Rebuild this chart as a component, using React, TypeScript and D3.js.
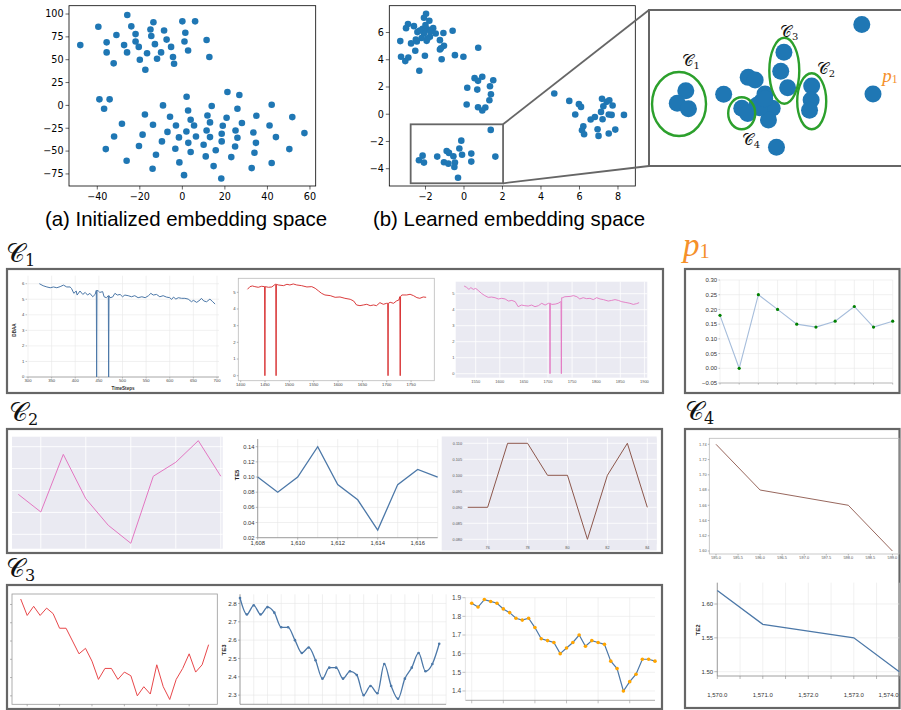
import React from "react";
import * as d3 from "d3";

type P = [number, number];
type Sc = d3.ScaleLinear<number, number>;

// ---------------- data ----------------
const initPoints: P[] = [
  [-48, 66], [-25.9, 99], [-39.5, 86], [-24, 86.5], [-13.6, 91], [0, 92], [6, 92], [-31, 77], [-22, 78], [-15, 83],
  [-14.6, 76], [-8.6, 82], [1.4, 79.5], [-35.6, 69], [-27.4, 66], [-22, 70], [-20.5, 64], [-12.9, 67], [-7.4, 72],
  [-5.3, 64], [1, 70], [11.4, 71.5], [-35.6, 58], [-26, 58], [-16.6, 57], [-10, 58], [-4.4, 53], [2.7, 60], [12.7, 53],
  [-32.3, 46], [-20, 50], [-11.9, 51], [-3.9, 45.6], [-17.4, 39],
  [-39, 6.6], [-34.2, 6.6], [-36.8, -3.6], [2, 9.5], [21.2, 14.6], [26.8, 11.3], [-9.1, 0], [13.8, -0.7], [25.9, -3.6],
  [42, 0.7], [-17.6, -9.9], [2.7, -5.5], [-5.8, -12.4], [11.8, -11], [3.9, -15.7], [13, -18.6], [20.8, -13.5],
  [34.8, -11.3], [51.7, -12.8], [-28.4, -20], [-13.8, -21.2], [-3, -22], [5.5, -22], [19, -22.3], [28, -19.3], [41, -22],
  [11.4, -27.4], [25, -27.4], [-7, -29], [1.9, -28.5], [18.5, -31], [33.4, -29.6], [57.4, -30.3], [-32.1, -34],
  [-18.7, -32], [-1.6, -35], [6.4, -34], [13, -34.7], [25.9, -35.4], [44, -34.7], [-9.6, -39.4], [2.8, -41], [10, -43],
  [18.5, -39.4], [34.6, -41], [-36, -47.8], [-20.4, -44.5], [-3.3, -47.4], [15.7, -49], [24.8, -45], [50.3, -47.8],
  [-12.4, -54], [3.9, -51], [11, -55.8], [23, -56.6], [33.9, -51.8], [-26.2, -60.6], [-1.4, -62.4], [42, -63],
  [-14, -69.3], [14.7, -66.4], [32.6, -68.6], [0.8, -76.3], [18.3, -80],
];
const initXTicks = [-40, -20, 0, 20, 40, 60];
const initYTicks = [-75, -50, -25, 0, 25, 50, 75, 100];

const learnedPoints: P[] = [
  [-1.97, 7.38], [-2.08, 7.08], [-1.8, 6.86], [-2.91, 6.62], [-3.01, 6.32], [-2.6, 6.47], [-2.15, 6.27], [-1.9, 6.23],
  [-1.6, 6.32], [-2.42, 6.03], [-2.08, 5.93], [-1.47, 5.93], [-1.07, 5.96], [-0.59, 6.13], [-1.77, 5.69], [-1.25, 5.44],
  [-2.5, 5.49], [-1.94, 5.39], [-3.31, 5.37], [-2.75, 5.2], [-1.04, 5.02], [-1.25, 4.75], [-2.53, 4.66], [-3.27, 4.22],
  [-2.89, 4.17], [-3.05, 3.9], [-2.03, 4.29], [-1.16, 4.04], [-0.47, 4.34], [-0.03, 4.22], [0.74, 4.88], [-2.32, 3.19],
  [-2.3, 6.15], [-1.75, 6.05], [-2.2, 5.6], [-1.9, 5.55], [-2.0, 6.55], [-2.45, 5.35], [-1.2, 4.85],
  [0.55, 2.65], [0.95, 2.75], [0.73, 2.45], [1.52, 2.5], [0.17, 1.94], [0.69, 1.81], [1.35, 2.06], [1.4, 1.47],
  [1.32, 1.03], [0.14, 0.71], [0.73, 0.51], [1.11, 0.49], [0.95, 0.27],
  [4.69, 1.52], [5.47, 0.98], [5.97, 0.74], [6.08, 0.54], [5.78, -0.02], [6.58, -0.39], [6.8, -0.2], [7.17, 1.13],
  [7.41, 0.91], [7.55, 1.03], [7.72, 0.64], [7.24, 0.59], [7.12, 0.17], [7.52, -0.02], [7.67, -0.05], [8.31, -0.05],
  [7.2, -0.37], [6.2, -0.88], [6.13, -1.18], [6.24, -1.47], [6.94, -1.1], [6.99, -1.59], [7.52, -1.42], [7.86, -1.13],
  [1.39, -1.15], [-0.14, -1.94], [-0.24, -2.52], [-0.1, -2.97], [0.38, -2.89], [0.38, -3.48], [1.63, -3.11],
  [-2.15, -3.04], [-2.34, -3.38], [-2.08, -3.55], [-1.39, -3.11], [-0.9, -2.7], [-0.78, -2.84], [-0.55, -3.09],
  [-1.04, -3.53], [-0.81, -3.63], [-0.47, -3.55], [-0.5, -3.87], [-0.31, -4.66],
];
const learnedXTicks = [-2, 0, 2, 4, 6, 8];
const learnedYTicks = [-4, -2, 0, 2, 4, 6];
const zoomWindow = { x0: -2.77, x1: 2.03, y0: -0.74, y1: -5.07 };

const zoomPoints: P[] = [
  [1.22, -1.14], [1.43, -3.07], [-2.08, -2.98], [-2.24, -3.33], [-2.03, -3.48], [-1.37, -3.08], [-0.91, -2.61],
  [-0.78, -2.68], [-0.24, -1.91], [-0.3, -2.44], [-0.17, -2.9], [0.28, -2.85], [0.27, -3.24], [0.24, -3.52],
  [-0.595, -3.07], [-0.66, -3.29], [-0.46, -3.47], [-0.745, -3.385], [-0.53, -3.79], [-1.03, -3.47], [-0.92, -3.61],
  [-0.38, -4.55], [-0.7, -3.45], [-0.6, -3.2],
];
const clusterIds = ["1", "4", "3", "2"];
const clusterCenters: P[] = [[-2.207, -3.349], [-1.032, -3.607], [-0.233, -2.425], [0.281, -3.274]];
const clusterRadii: P[] = [[0.506, 0.888], [0.253, 0.444], [0.281, 0.916], [0.272, 0.777]];
const clusterLabelAt: P[] = [[-2.16, -2.3], [-1.032, -4.49], [-0.314, -1.49], [0.375, -2.52]];
const outlierLabelAt: P = [1.605, -2.74];

// C1 row: long sensor series with dropouts
const c1aSeries: P[] = [
  [324, 6.0], [332, 5.87], [340, 5.79], [347, 5.74], [354, 5.79], [361, 5.74], [368, 5.81], [375, 5.91], [382, 5.79],
  [389, 5.79], [392, 5.7], [397, 5.38], [402, 5.53], [404, 5.27], [410, 5.53], [416, 5.31], [421, 5.44], [426, 5.27],
  [431, 5.38], [437, 5.16], [442, 5.31], [444.6, 5.57], [445.3, 0], [446, 5.57], [449, 5.53], [452, 5.44], [458, 5.49],
  [461, 5.16], [466, 5.1], [470, 5.23], [470.7, 0], [471.4, 5.23], [473.5, 5.1], [479, 5.14], [484, 5.38], [489, 5.27],
  [495, 5.31], [500, 5.16], [505, 5.27], [512, 5.23], [519, 5.16], [526, 5.23], [533, 5.1], [541, 5.16], [548, 5.1],
  [555, 5.23], [560, 5.38], [565, 5.27], [572, 5.31], [579, 5.16], [586, 5.23], [593, 5.14], [600, 5.1], [604, 4.99],
  [608, 5.14], [613, 5.01], [618, 5.1], [625, 5.06], [632, 5.06], [639, 5.01], [646, 4.84], [650, 4.93], [657, 4.8],
  [664, 4.95], [667, 5.06], [672, 4.89], [678, 4.84], [685, 5.01], [691, 4.84], [696, 4.69],
];
const c1bSeries: P[] = [
  [1414, 5.18], [1419, 5.34], [1424, 5.38], [1429, 5.34], [1436, 5.3], [1443, 5.36], [1449, 5.34], [1449.7, 0],
  [1450.4, 5.34], [1457, 5.3], [1464, 5.32], [1471, 5.48], [1472, 5.48], [1472.7, 0], [1473.4, 5.48], [1477, 5.44],
  [1488, 5.4], [1495, 5.48], [1501, 5.44], [1508, 5.5], [1515, 5.44], [1525, 5.4], [1536, 5.32], [1546, 5.34],
  [1553, 5.24], [1560, 5.08], [1566, 4.94], [1573, 4.84], [1584, 4.8], [1594, 4.7], [1604, 4.72], [1614, 4.64],
  [1625, 4.58], [1632, 4.48], [1638, 4.24], [1645, 4.2], [1652, 4.24], [1659, 4.28], [1666, 4.2], [1673, 4.24],
  [1679, 4.2], [1686, 4.38], [1693, 4.28], [1700, 4.34], [1702, 4.34], [1702.7, 0], [1703.4, 4.34], [1707, 4.4],
  [1714, 4.34], [1720, 4.48], [1725, 4.54], [1727, 4.74], [1727.7, 0], [1728.4, 4.74], [1731, 4.84], [1741, 4.84],
  [1748, 4.88], [1755, 4.8], [1762, 4.68], [1768, 4.64], [1775, 4.72], [1781, 4.7],
];
const c1cSeries: P[] = [
  [1526, 5.48], [1531, 5.4], [1536, 5.27], [1540, 5.38], [1545, 5.27], [1550, 5.33], [1555, 5.21], [1562, 5.02],
  [1569, 4.88], [1576, 4.77], [1583, 4.79], [1590, 4.75], [1597, 4.67], [1604, 4.71], [1611, 4.67], [1618, 4.54],
  [1625, 4.58], [1632, 4.5], [1638, 4.19], [1645, 4.29], [1652, 4.25], [1659, 4.23], [1666, 4.29], [1673, 4.19],
  [1680, 4.25], [1687, 4.4], [1694, 4.29], [1701, 4.4], [1703.5, 4.4], [1704.2, 0], [1704.9, 4.4], [1708, 4.33],
  [1715, 4.35], [1721, 4.4], [1726.4, 4.5], [1727, 4.5], [1727.7, 0], [1728.4, 4.75], [1730, 4.75], [1735, 4.81],
  [1746, 4.83], [1753, 4.88], [1760, 4.81], [1766, 4.67], [1773, 4.75], [1780, 4.69], [1787, 4.71], [1794, 4.63],
  [1801, 4.75], [1808, 4.67], [1815, 4.63], [1825, 4.54], [1832, 4.58], [1839, 4.63], [1846, 4.58], [1853, 4.5],
  [1860, 4.46], [1870, 4.4], [1877, 4.33], [1884, 4.38], [1889, 4.44],
];
const c1aXTicks = [300, 350, 400, 450, 500, 550, 600, 650, 700];
const c1aYTicks = [0, 1, 2, 3, 4, 5, 6];
const c1bXTicks = [1400, 1450, 1500, 1550, 1600, 1650, 1700, 1750];
const c1bYTicks = [0, 1, 2, 3, 4, 5];
const c1cXTicks = [1550, 1600, 1650, 1700, 1750, 1800, 1850, 1900];
const c1cYTicks = [0, 1, 2, 3, 4, 5];

// p1
const p1Values = [0.18, 0.0, 0.25, 0.2, 0.15, 0.14, 0.16, 0.21, 0.14, 0.16];
const p1YTicks = [-0.05, 0, 0.05, 0.1, 0.15, 0.2, 0.25, 0.3];

// C2 row
const c2aValues = [0.0765, 0.0604, 0.113, 0.0725, 0.0482, 0.0318, 0.093, 0.1058, 0.1255, 0.093];
const c2aYGrid = [0.04, 0.06, 0.08, 0.1, 0.12];
const c2aXGrid = [1, 3, 5, 7, 9];
const te5Steps = [1608, 1609, 1610, 1611, 1612, 1613, 1614, 1615, 1616, 1617];
const te5Values = [0.1, 0.08, 0.1, 0.14, 0.09, 0.07, 0.03, 0.09, 0.11, 0.1];
const te5YTicks = [0.02, 0.04, 0.06, 0.08, 0.1, 0.12, 0.14];
const te5XLabels = [1608, 1610, 1612, 1614, 1616];
const c2cSteps = [75, 76, 77, 78, 79, 80, 81, 82, 83, 84];
const c2cValues = [0.09, 0.09, 0.11, 0.11, 0.1, 0.1, 0.08, 0.1, 0.11, 0.09];
const c2cXTicks = [76, 78, 80, 82, 84];
const c2cYTicks = [0.08, 0.085, 0.09, 0.095, 0.1, 0.105, 0.11];

// C3 row
const te3Values = [2.83, 2.74, 2.79, 2.74, 2.78, 2.75, 2.67, 2.67, 2.6, 2.53, 2.56, 2.49, 2.39, 2.45, 2.45, 2.39, 2.43,
  2.41, 2.3, 2.35, 2.31, 2.47, 2.35, 2.28, 2.39, 2.45, 2.53, 2.43, 2.47, 2.58];
const te3YTicks = [2.3, 2.4, 2.5, 2.6, 2.7, 2.8];
const c3aXTicks = [1, 6, 11, 16, 21, 26];
const te3XGrid = [0, 2, 4, 6, 8, 10, 12, 14, 16, 18, 20, 22, 24, 26, 28, 30];
const c3cValues = [1.87, 1.85, 1.89, 1.88, 1.87, 1.84, 1.82, 1.79, 1.78, 1.79, 1.74, 1.68, 1.67, 1.66, 1.6, 1.63, 1.66,
  1.7, 1.64, 1.67, 1.66, 1.65, 1.56, 1.52, 1.4, 1.45, 1.49, 1.57, 1.57, 1.56];
const c3cYTicks = [1.4, 1.5, 1.6, 1.7, 1.8, 1.9];
const c3cXTicks = [0, 5, 10, 15, 20, 25];

// C4
const c4aSteps = [595, 596, 598, 599];
const c4aValues = [1.74, 1.68, 1.66, 1.6];
const c4aXTicks = [595, 595.5, 596, 596.5, 597, 597.5, 598, 598.5, 599];
const c4aYTicks = [1.6, 1.62, 1.64, 1.66, 1.68, 1.7, 1.72, 1.74];
const te2Steps = [1570, 1571, 1572, 1573, 1574];
const te2Values = [1.62, 1.57, 1.56, 1.55, 1.5];
const te2XGrid = [1570, 1570.5, 1571, 1571.5, 1572, 1572.5, 1573, 1573.5, 1574];
const te2XLabels = [1570, 1571, 1572, 1573, 1574];
const te2YTicks = [1.5, 1.55, 1.6];

// ---------------- styles ----------------
const MPL = "'DejaVu Sans', sans-serif";
const SANS = "'Liberation Sans', Arial, sans-serif";
const SERIF = "'DejaVu Serif', 'Liberation Serif', serif";
const DOT = "#1f77b4";
const BOX = "#666";
const VEGA = "#4c78a8";

const lin = (d: [number, number], r: [number, number]) => d3.scaleLinear().domain(d).range(r);

interface AxProps {
  x: Sc; y: Sc; box: [number, number, number, number];
  xTicks?: number[]; yTicks?: number[]; xFmt?: (v: number) => string; yFmt?: (v: number) => string;
  xGrid?: number[]; yGrid?: number[]; gridColor?: string; gridW?: number;
  bg?: string; frame?: string; frameW?: number; bottom?: string; bottomW?: number; left?: string; leftW?: number;
  tick?: number; tickColor?: string; font?: string; fs?: number; color?: string; xDy?: number; yDx?: number;
  noXLabels?: boolean; noYLabels?: boolean;
}
function Axes(p: AxProps) {
  const [l, t, r, b] = p.box;
  const tk = p.tick ?? 2;
  const fs = p.fs ?? 5;
  const tc = p.tickColor ?? "#555";
  const col = p.color ?? "#444";
  const font = p.font ?? SANS;
  return (
    <g>
      {p.bg && <rect x={l} y={t} width={r - l} height={b - t} fill={p.bg} />}
      {(p.xGrid ?? []).map((v, i) => (
        <line key={"gx" + i} x1={p.x(v)} x2={p.x(v)} y1={t} y2={b} stroke={p.gridColor ?? "#e6e6e6"} strokeWidth={p.gridW ?? 0.6} />
      ))}
      {(p.yGrid ?? []).map((v, i) => (
        <line key={"gy" + i} x1={l} x2={r} y1={p.y(v)} y2={p.y(v)} stroke={p.gridColor ?? "#e6e6e6"} strokeWidth={p.gridW ?? 0.6} />
      ))}
      {p.frame && <rect x={l} y={t} width={r - l} height={b - t} fill="none" stroke={p.frame} strokeWidth={p.frameW ?? 0.8} />}
      {p.bottom && <line x1={l} x2={r} y1={b} y2={b} stroke={p.bottom} strokeWidth={p.bottomW ?? 0.8} />}
      {p.left && <line x1={l} x2={l} y1={t} y2={b} stroke={p.left} strokeWidth={p.leftW ?? 0.8} />}
      {(p.xTicks ?? []).map((v, i) => (
        <g key={"tx" + i}>
          {tk > 0 && <line x1={p.x(v)} x2={p.x(v)} y1={b} y2={b + tk} stroke={tc} strokeWidth={0.6} />}
          {!p.noXLabels && (
            <text x={p.x(v)} y={b + tk + (p.xDy ?? fs * 0.95)} fontSize={fs} fontFamily={font} fill={col} textAnchor="middle">
              {p.xFmt ? p.xFmt(v) : String(v)}
            </text>
          )}
        </g>
      ))}
      {(p.yTicks ?? []).map((v, i) => (
        <g key={"ty" + i}>
          {tk > 0 && <line x1={l - tk} x2={l} y1={p.y(v)} y2={p.y(v)} stroke={tc} strokeWidth={0.6} />}
          {!p.noYLabels && (
            <text x={l - tk - (p.yDx ?? 1.2)} y={p.y(v)} dy="0.35em" fontSize={fs} fontFamily={font} fill={col} textAnchor="end">
              {p.yFmt ? p.yFmt(v) : String(v)}
            </text>
          )}
        </g>
      ))}
    </g>
  );
}

function PanelBox({ x0, y0, x1, y1 }: { x0: number; y0: number; x1: number; y1: number }) {
  return <rect x={x0} y={y0} width={x1 - x0} height={y1 - y0} fill="none" stroke={BOX} strokeWidth={2.2} />;
}

function CLabel({ x, y, sub, fs }: { x: number; y: number; sub: string; fs: number }) {
  return (
    <text x={x} y={y} fontFamily={SERIF} fontSize={fs} fill="#111">
      <tspan>𝒞</tspan>
      <tspan fontSize={fs * 0.62} dy={fs * 0.16}>{sub}</tspan>
    </text>
  );
}

function PLabel({ x, y, fs }: { x: number; y: number; fs: number }) {
  return (
    <text x={x} y={y} fontSize={fs} fill="#f5902a" fontFamily="'Liberation Serif', serif">
      <tspan fontStyle="italic">p</tspan>
      <tspan fontSize={fs * 0.62} dy={fs * 0.05}>1</tspan>
    </text>
  );
}

export default function App() {
  // (a)
  const ax = lin([-53.3, 62.7], [69, 315.7]);
  const ay = lin([-88.2, 109.1], [186, 5.7]);
  // (b)
  const bx = lin([-3.88, 8.9], [389.3, 635.3]);
  const by = lin([-5.27, 7.97], [186, 5.7]);
  // zoom panel
  const zx = lin([zoomWindow.x0, zoomWindow.x1], [649, 905]);
  const zy = lin([zoomWindow.y0, zoomWindow.y1], [10, 166]);

  const fmtInt = d3.format("d");

  // C1 scales
  const x1 = lin([300, 700], [28, 217]);
  const y1 = lin([0, 6], [377, 283.7]);
  const x2 = lin([1400, 1800], [240.7, 435.4]);
  const y2 = lin([0, 5], [375.7, 292.3]);
  const x3 = lin([1550, 1900], [475.7, 644.4]);
  const y3 = lin([0, 5], [373.7, 293.7]);
  const xp = lin([0, 9], [720, 892.7]);
  const yp = lin([-0.05, 0.3], [383, 280]);
  // C2
  const x2a = lin([0, 9], [18.3, 220.8]);
  const y2a = lin([0.04, 0.12], [534.3, 446.7]);
  const x2b = lin([1608, 1617], [257.7, 437.7]);
  const y2b = lin([0.02, 0.15], [537.7, 439.1]);
  const x2c = lin([75, 84], [467.7, 647.3]);
  const y2c = lin([0.08, 0.11], [539.3, 443.3]);
  // C3
  const x3a = lin([0, 29], [20.7, 208.6]);
  const y3a = lin([2.28, 2.83], [699.5, 599]);
  const x3b = lin([0, 30], [240, 446.1]);
  const y3b = lin([2.25, 2.85], [704.3, 594.3]);
  const x3c = lin([-1, 29], [465.4, 655]);
  const y3c = lin([1.35, 1.9], [700.3, 597.7]);
  // C4
  const x4a = lin([595, 599], [716, 892.4]);
  const y4a = lin([1.6, 1.74], [551, 444.3]);
  const x4b = lin([1570, 1574], [717.3, 899.3]);
  const y4b = lin([1.5, 1.6], [671.7, 604]);

  const pathXY = (data: P[], xs: Sc, ys: Sc, curve: d3.CurveFactory = d3.curveLinear) =>
    d3.line<P>().x((d) => xs(d[0])).y((d) => ys(d[1])).curve(curve)(data) ?? "";
  const idx = (vals: number[]): P[] => vals.map((v, i) => [i, v]);
  const zip = (xs: number[], vs: number[]): P[] => vs.map((v, i) => [xs[i], v]);

  const commaFmt = d3.format(",");
  const comma1 = d3.format(",.1f");

  return (
    <svg width={901} height={710} style={{ position: "absolute", left: 0, top: 0, background: "#fff" }}>
      <rect width={901} height={710} fill="#fff" />

      {/* ---------- (a) ---------- */}
      <g>
        {initPoints.map((d, i) => (
          <circle key={i} cx={ax(d[0])} cy={ay(d[1])} r={3.3} fill={DOT} />
        ))}
        <Axes x={ax} y={ay} box={[69, 5.7, 315.7, 186]} frame="#000" frameW={0.8} xTicks={initXTicks} yTicks={initYTicks}
          xFmt={fmtInt} yFmt={fmtInt} tick={3.5} tickColor="#000" font={MPL} fs={9.6} color="#000" xDy={10} yDx={2} />
        <text x={186} y={226} textAnchor="middle" fontFamily={SANS} fontSize={20.4} fill="#000">(a) Initialized embedding space</text>
      </g>

      {/* ---------- (b) ---------- */}
      <g>
        {learnedPoints.map((d, i) => (
          <circle key={i} cx={bx(d[0])} cy={by(d[1])} r={3.3} fill={DOT} />
        ))}
        <Axes x={bx} y={by} box={[389.3, 5.7, 635.3, 186]} frame="#000" frameW={0.8} xTicks={learnedXTicks} yTicks={learnedYTicks}
          xFmt={fmtInt} yFmt={fmtInt} tick={3.5} tickColor="#000" font={MPL} fs={9.6} color="#000" xDy={10} yDx={2} />
        <rect x={bx(zoomWindow.x0)} y={by(zoomWindow.y0)} width={bx(zoomWindow.x1) - bx(zoomWindow.x0)}
          height={by(zoomWindow.y1) - by(zoomWindow.y0)} fill="none" stroke={BOX} strokeWidth={1.8} />
        <line x1={bx(zoomWindow.x1)} y1={by(zoomWindow.y0)} x2={649} y2={10} stroke={BOX} strokeWidth={1.8} />
        <line x1={bx(zoomWindow.x1)} y1={by(zoomWindow.y1)} x2={649} y2={166} stroke={BOX} strokeWidth={1.8} />
        <text x={509} y={226} textAnchor="middle" fontFamily={SANS} fontSize={20.4} fill="#000">(b) Learned embedding space</text>
      </g>

      {/* ---------- zoom panel ---------- */}
      <g>
        <rect x={649} y={10} width={260} height={156} fill="#fff" stroke={BOX} strokeWidth={2} />
        {zoomPoints.map((d, i) => (
          <circle key={i} cx={zx(d[0])} cy={zy(d[1])} r={8.5} fill={DOT} />
        ))}
        {clusterCenters.map((c, i) => (
          <ellipse key={i} cx={zx(c[0])} cy={zy(c[1])} rx={zx(c[0] + clusterRadii[i][0]) - zx(c[0])}
            ry={zy(c[1] - clusterRadii[i][1]) - zy(c[1])} fill="none" stroke="#2ca02c" strokeWidth={2.4} />
        ))}
        {clusterLabelAt.map((c, i) => (
          <CLabel key={i} x={zx(c[0])} y={zy(c[1])} sub={clusterIds[i]} fs={16} />
        ))}
        <PLabel x={zx(outlierLabelAt[0])} y={zy(outlierLabelAt[1])} fs={19} />
      </g>

      {/* ---------- C1 row ---------- */}
      <CLabel x={6} y={262} sub="1" fs={26} />
      <PanelBox x0={7} y0={269} x1={663} y1={393} />
      <g>
        <Axes x={x1} y={y1} box={[27, 275.7, 219, 377]} xGrid={c1aXTicks} yGrid={c1aYTicks} gridColor="#e8e8e8"
          bottom="#999" xTicks={c1aXTicks} yTicks={c1aYTicks} tick={1.5} fs={4.2} tickColor="#999" />
        <text x={123} y={389.5} textAnchor="middle" fontSize={4.6} fontWeight="bold" fontFamily={SANS} fill="#333">TimeSteps</text>
        <text transform="translate(16,330) rotate(-90)" textAnchor="middle" fontSize={4.6} fontWeight="bold" fontFamily={SANS} fill="#333">DBAA</text>
        <path d={pathXY(c1aSeries, x1, y1)} fill="none" stroke={VEGA} strokeWidth={1} />
      </g>
      <g>
        <Axes x={x2} y={y2} box={[238.3, 278.3, 434.3, 380.7]} frame="#bbb" frameW={0.8} xTicks={c1bXTicks} yTicks={c1bYTicks}
          tick={1.5} fs={4.2} tickColor="#888" />
        <path d={pathXY(c1bSeries, x2, y2)} fill="none" stroke="#d62728" strokeWidth={0.9} />
      </g>
      <g>
        <Axes x={x3} y={y3} box={[455.7, 281.7, 647.3, 377.7]} bg="#eaeaf2" xGrid={c1cXTicks} yGrid={c1cYTicks} gridColor="#fff"
          gridW={0.8} xTicks={c1cXTicks} yTicks={c1cYTicks} tick={0} fs={4} color="#555" xDy={5} />
        <path d={pathXY(c1cSeries, x3, y3)} fill="none" stroke="#e377c2" strokeWidth={0.9} />
      </g>

      {/* ---------- p1 ---------- */}
      <PLabel x={683} y={256} fs={33} />
      <PanelBox x0={685} y0={269} x1={899.5} y1={393} />
      <g>
        <Axes x={xp} y={yp} box={[720, 280, 892.7, 383]} xGrid={d3.range(10)} yGrid={p1YTicks} gridColor="#e8e8e8"
          bottom="#d0d0d0" bottomW={1.6} xTicks={d3.range(10)} yTicks={p1YTicks} yFmt={d3.format(".2f")} noXLabels
          tick={1.6} tickColor="#999" fs={6} color="#333" />
        <path d={pathXY(idx(p1Values), xp, yp)} fill="none" stroke="#a6bddb" strokeWidth={1.1} />
        {p1Values.map((v, i) => (
          <circle key={i} cx={xp(i)} cy={yp(v)} r={1.6} fill="#008000" />
        ))}
      </g>

      {/* ---------- C2 row ---------- */}
      <CLabel x={9} y={421} sub="2" fs={26} />
      <PanelBox x0={7} y0={429} x1={662} y1={553} />
      <g>
        <Axes x={x2a} y={y2a} box={[12, 436.7, 222.7, 548.7]} bg="#eaeaf2" xGrid={c2aXGrid} yGrid={c2aYGrid} gridColor="#fff" gridW={0.9} tick={0} />
        <path d={pathXY(idx(c2aValues), x2a, y2a)} fill="none" stroke="#e377c2" strokeWidth={1} />
      </g>
      <g>
        <Axes x={x2b} y={y2b} box={[257.7, 439.1, 437.7, 537.7]} xGrid={te5Steps} yGrid={te5YTicks} gridColor="#e6e6e6"
          bottom="#888" left="#888" xTicks={te5XLabels} yTicks={te5YTicks} xFmt={commaFmt} yFmt={d3.format(".2f")}
          tick={2} tickColor="#888" fs={5.8} color="#333" />
        <text transform="translate(238.5,475) rotate(-90)" textAnchor="middle" fontSize={5.8} fontWeight="bold" fontFamily={SANS} fill="#222">TE5</text>
        <path d={pathXY(zip(te5Steps, te5Values), x2b, y2b)} fill="none" stroke={VEGA} strokeWidth={1.3} />
      </g>
      <g>
        <rect x={441.7} y={436.5} width={215} height={114} fill="#eaeaf2" />
        <Axes x={x2c} y={y2c} box={[463.3, 438.3, 656.7, 544.3]} bg="#eaeaf2" xGrid={c2cXTicks} yGrid={c2cYTicks} gridColor="#fff"
          gridW={0.8} xTicks={c2cXTicks} yTicks={c2cYTicks} yFmt={d3.format(".3f")} tick={0} fs={3.8} color="#555" xDy={4.5} />
        <path d={pathXY(zip(c2cSteps, c2cValues), x2c, y2c)} fill="none" stroke="#8c564b" strokeWidth={1} />
      </g>

      {/* ---------- C4 ---------- */}
      <CLabel x={685} y={420} sub="4" fs={26} />
      <PanelBox x0={685} y0={429} x1={899.5} y1={708} />
      <g>
        <Axes x={x4a} y={y4a} box={[709.3, 438.3, 899, 554]} frame="#bbb" frameW={0.8} xTicks={c4aXTicks} yTicks={c4aYTicks}
          xFmt={d3.format(".1f")} yFmt={d3.format(".2f")} tick={1.5} tickColor="#888" fs={3.9} color="#555" />
        <path d={pathXY(zip(c4aSteps, c4aValues), x4a, y4a)} fill="none" stroke="#8c564b" strokeWidth={0.9} />
      </g>
      <g>
        <Axes x={x4b} y={y4b} box={[717.3, 582.7, 899.3, 676]} xGrid={te2XGrid} yGrid={te2YTicks} gridColor="#e6e6e6"
          bottom="#888" left="#888" xTicks={te2XGrid} yTicks={te2YTicks} noXLabels yFmt={d3.format(".2f")}
          tick={3} tickColor="#888" fs={6} color="#333" />
        {te2XLabels.map((v, i) => (
          <text key={i} x={i === te2XLabels.length - 1 ? 898.5 : x4b(v)} y={697}
            textAnchor={i === te2XLabels.length - 1 ? "end" : "middle"} fontSize={6} fontFamily={SANS} fill="#333">{comma1(v)}</text>
        ))}
        <text transform="translate(700,630) rotate(-90)" textAnchor="middle" fontSize={6} fontWeight="bold" fontFamily={SANS} fill="#222">TE2</text>
        <path d={pathXY(zip(te2Steps, te2Values), x4b, y4b)} fill="none" stroke={VEGA} strokeWidth={1.3} />
      </g>

      {/* ---------- C3 row ---------- */}
      <CLabel x={6} y={577} sub="3" fs={26} />
      <PanelBox x0={7} y0={585} x1={662} y1={709} />
      <g>
        <Axes x={x3a} y={y3a} box={[12, 594, 217.3, 704.3]} frame="#999" frameW={0.8} xTicks={c3aXTicks} yTicks={te3YTicks}
          noXLabels noYLabels tick={2} tickColor="#888" />
        <path d={pathXY(idx(te3Values), x3a, y3a)} fill="none" stroke="#e8474a" strokeWidth={1} />
      </g>
      <g>
        <Axes x={x3b} y={y3b} box={[240, 594.3, 446.1, 704.3]} xGrid={te3XGrid} yGrid={te3YTicks} gridColor="#e6e6e6"
          bottom="#888" left="#888" yTicks={te3YTicks} yFmt={d3.format(".1f")} tick={2} tickColor="#888" fs={6.2} color="#333" />
        <text transform="translate(226,650) rotate(-90)" textAnchor="middle" fontSize={6} fontWeight="bold" fontFamily={SANS} fill="#222">TE3</text>
        <path d={pathXY(idx(te3Values), x3b, y3b, d3.curveMonotoneX)} fill="none" stroke={VEGA} strokeWidth={1.3} />
        {te3Values.map((v, i) => (
          <circle key={i} cx={x3b(i)} cy={y3b(v)} r={1.3} fill={VEGA} />
        ))}
      </g>
      <g>
        <Axes x={x3c} y={y3c} box={[465.4, 597.7, 655, 700.3]} xGrid={c3cXTicks} yGrid={c3cYTicks} gridColor="#e8e8e8"
          bottom="#aaa" bottomW={1} left="#ddd" xTicks={c3cXTicks} yTicks={c3cYTicks} yFmt={d3.format(".1f")} noXLabels
          tick={3} tickColor="#999" fs={6.6} color="#444" />
        <path d={pathXY(idx(c3cValues), x3c, y3c)} fill="none" stroke={VEGA} strokeWidth={1.2} />
        {c3cValues.map((v, i) => (
          <circle key={i} cx={x3c(i)} cy={y3c(v)} r={1.8} fill="#ffa500" />
        ))}
      </g>
    </svg>
  );
}
